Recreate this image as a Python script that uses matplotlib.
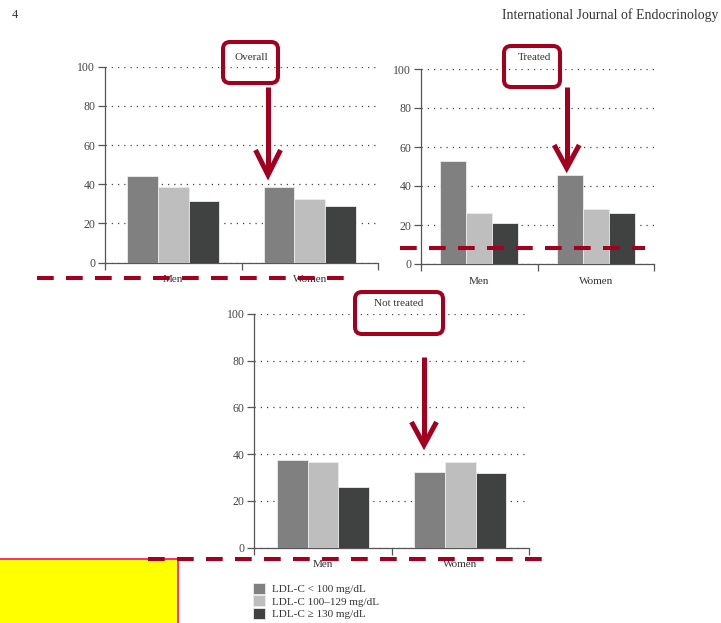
import numpy as np
import matplotlib
matplotlib.use("Agg")
import matplotlib.pyplot as plt
from matplotlib.patches import FancyBboxPatch, Rectangle

W, H = 721, 623
plt.rcParams["font.family"] = ["Liberation Serif", "DejaVu Serif"]

# ── Data ──────────────────────────────────────────────────────────────────────
categories = ["Men", "Women"]
series_labels = ["LDL-C < 100 mg/dL", "LDL-C 100–129 mg/dL", "LDL-C ≥ 130 mg/dL"]
series_colors = ["#808080", "#bebebe", "#404242"]

overall_men = [44.4, 38.8, 31.6]
overall_women = [38.8, 32.5, 29.1]
treated_men = [52.8, 26.2, 21.2]
treated_women = [45.5, 28.4, 26.2]
not_treated_men = [37.6, 36.8, 25.8]
not_treated_women = [32.3, 36.5, 32.0]

y_ticks = [0, 20, 40, 60, 80, 100]

RED = "#a3001f"
AXIS_GREY = "#555555"


def px_box(l, t, r, b):
    return [l / W, 1 - b / H, (r - l) / W, (b - t) / H]


def draw_panel(fig, box, men, women):
    ax = fig.add_axes(px_box(*box))
    x = np.arange(len(categories))
    width = 0.224
    bars = []
    for i in range(3):
        vals = [men[i], women[i]]
        b = ax.bar(x + (i - 1) * width, vals, width, color=series_colors[i],
                   edgecolor="#ececec", linewidth=0.6, label=series_labels[i], zorder=3)
        bars.append(b)
    ax.set_xlim(-0.5, 1.5)
    ax.set_ylim(0, 100)
    ax.set_yticks(y_ticks)
    ax.set_xticks([-0.5, 0.5, 1.5])
    ax.set_xticklabels([])
    ax.set_xticks(x, minor=True)
    ax.set_xticklabels(categories, minor=True)
    ax.tick_params(axis="x", which="minor", length=0, pad=9, labelsize=8, labelcolor="#333333")
    ax.tick_params(axis="x", which="major", length=5, color=AXIS_GREY, width=0.9)
    ax.tick_params(axis="y", length=5, color=AXIS_GREY, width=0.9, labelsize=8.5,
                   labelcolor="#444444", pad=2)
    ax.set_axisbelow(True)
    ax.yaxis.grid(True, linestyle=(0, (1, 4)), color="#444444", linewidth=0.9)
    for s in ["top", "right"]:
        ax.spines[s].set_visible(False)
    for s in ["left", "bottom"]:
        ax.spines[s].set_color(AXIS_GREY)
        ax.spines[s].set_linewidth(0.9)
    return ax, bars


fig = plt.figure(figsize=(W / 100, H / 100), dpi=100)

ax_a, bars = draw_panel(fig, (105, 66.7, 378, 262.7), overall_men, overall_women)
ax_b, _ = draw_panel(fig, (421, 69, 654, 264), treated_men, treated_women)
ax_c, _ = draw_panel(fig, (254.3, 314, 529, 547.7), not_treated_men, not_treated_women)

fig.legend(handles=[b for b in bars], labels=series_labels, loc="upper left",
           bbox_to_anchor=(253 / W, 1 - 583 / H), frameon=False, fontsize=8,
           handlelength=1.1, handleheight=1.1, handletextpad=0.6,
           labelspacing=0.12, borderpad=0, borderaxespad=0, labelcolor="#333333")

# ── Overlay for page text and annotations (pixel coordinates) ────────────────
ov = fig.add_axes([0, 0, 1, 1], zorder=10)
ov.set_xlim(0, W)
ov.set_ylim(H, 0)
ov.axis("off")
ov.patch.set_alpha(0)

ov.text(12, 15, "4", fontsize=9, color="#333333", va="center", ha="left")
ov.text(718, 15, "International Journal of Endocrinology", fontsize=10,
        color="#333333", va="center", ha="right")

# panel titles inside red rounded boxes
titles = [("Overall", 251.7, 57, (223, 42, 278, 83)),
          ("Treated", 535, 57, (504, 46, 560, 87)),
          ("Not treated", 398.3, 304, (355, 292, 443, 334))]
for label, tx, ty, (l, t, r, b) in titles:
    ov.text(tx, ty, label, fontsize=8, color="#333333", ha="center", va="center")
    ov.add_patch(FancyBboxPatch((l + 5, t + 5), r - l - 10, b - t - 10,
                                boxstyle="round,pad=5,rounding_size=7",
                                fill=False, edgecolor=RED, linewidth=2.9))

# arrows: shaft + chevron head
arrows = [(268, 87, 175, 12.5, 25),
          (566.7, 87, 168, 12.5, 23),
          (424, 357, 445, 12.5, 23)]
for ax_x, y0, y1, half_w, head_h in arrows:
    ov.plot([ax_x, ax_x], [y0, y1 - 3], color=RED, linewidth=3.6, solid_capstyle="butt")
    ov.plot([ax_x - half_w, ax_x, ax_x + half_w], [y1 - head_h, y1, y1 - head_h],
            color=RED, linewidth=3.6, solid_joinstyle="miter", solid_capstyle="butt")

# dashed red reference lines
dashes = [(37, 345, 278), (400, 645, 248.3), (148, 545, 558.7)]
for x0, x1, y in dashes:
    ov.plot([x0, x1], [y, y], color=RED, linewidth=2.9, linestyle=(0, (4.15, 3.05)),
            dash_capstyle="butt")

# yellow box bottom left
ov.add_patch(Rectangle((-2, 559.3), 180.3, 70, facecolor="#ffff00",
                       edgecolor="#ff1a6e", linewidth=1.3))

fig.savefig("out.png", dpi=100)
